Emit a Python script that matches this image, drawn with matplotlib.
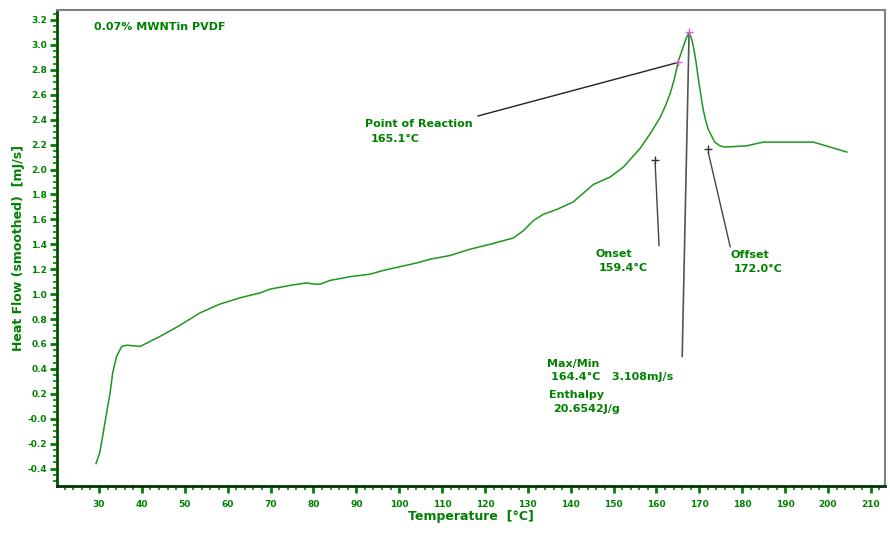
import matplotlib
matplotlib.use("Agg")
import matplotlib.pyplot as plt
from matplotlib.ticker import MultipleLocator, FixedLocator

# heat flow curve
temp = [29.3, 30.2, 31.0, 31.8, 32.6, 33.2, 34.1, 35.3, 36.5, 39.6, 44.2, 48.9,
        53.6, 58.2, 62.9, 65.2, 67.6, 69.9, 74.6, 78.4, 80.2, 81.6, 83.9, 88.6,
        93.2, 96.3, 100.2, 104.1, 107.2, 111.9, 116.5, 121.2, 126.6, 129.0,
        131.3, 133.6, 136.8, 140.6, 145.3, 149.2, 152.3, 156.2, 158.6, 160.9,
        162.2, 163.2, 164.2, 165.1, 166.3, 166.9, 167.6, 168.1, 168.6, 169.2,
        169.8, 170.9, 171.5, 172.1, 173.6, 174.8, 176.0, 181.0, 184.9, 189.6,
        196.6, 200.5, 204.4]
heat = [-0.36, -0.27, -0.11, 0.05, 0.21, 0.37, 0.50, 0.58, 0.59, 0.58, 0.66, 0.75,
        0.85, 0.92, 0.97, 0.99, 1.01, 1.04, 1.07, 1.09, 1.08, 1.08, 1.11, 1.14,
        1.16, 1.19, 1.22, 1.25, 1.28, 1.31, 1.36, 1.40, 1.45, 1.51,
        1.59, 1.64, 1.68, 1.74, 1.88, 1.94, 2.02, 2.17, 2.29, 2.42,
        2.52, 2.61, 2.73, 2.87, 2.99, 3.05, 3.10, 3.06, 2.99, 2.87,
        2.72, 2.48, 2.39, 2.32, 2.22, 2.19, 2.18, 2.19, 2.22, 2.22,
        2.22, 2.18, 2.14]

# markers on the trace
peak = (167.6, 3.10)
reaction = (165.1, 2.86)
onset_mark = (159.7, 2.08)
offset_mark = (172.1, 2.165)

y_ticks = [-0.4, -0.2, 0.0, 0.2, 0.4, 0.6, 0.8, 1.0, 1.2, 1.4, 1.6, 1.8, 2.0,
           2.2, 2.4, 2.6, 2.8, 3.0, 3.2]
y_labels = ["-0.4", "-0.2", "-0.0", "0.2", "0.4", "0.6", "0.8", "1.0", "1.2",
            "1.4", "1.6", "1.8", "2.0", "2.2", "2.4", "2.6", "2.8", "3.0", "3.2"]
x_ticks = list(range(30, 220, 10))

green = "#008000"
line_green = "#1e961e"

fig = plt.figure(figsize=(8.9, 5.33), dpi=100)
ax = fig.add_axes([0.064, 0.0882, 0.9304, 0.893])

ax.plot(temp, heat, color=line_green, lw=1.1)

# annotation leader lines
ax.plot([reaction[0], 118.4], [reaction[1], 2.43], color="#222222", lw=1)
ax.plot([onset_mark[0], 160.6], [onset_mark[1] - 0.03, 1.39], color="#444444", lw=1)
ax.plot([offset_mark[0], 177.2], [offset_mark[1] - 0.03, 1.38], color="#444444", lw=1)
ax.plot([peak[0], 166.0], [peak[1] - 0.02, 0.50], color="#555555", lw=1.2)

ax.plot(*peak, marker="+", color="#cc66cc", ms=6, mew=1)
ax.plot(*reaction, marker="+", color="#cc66cc", ms=6, mew=1)
ax.plot(*onset_mark, marker="+", color="#333333", ms=6, mew=1)
ax.plot(*offset_mark, marker="+", color="#333333", ms=6, mew=1)

tkw = dict(color=green, fontsize=8, fontweight="bold", va="center", ha="left",
           family="DejaVu Sans")
ax.text(28.8, 3.144, "0.07% MWNTin PVDF", **tkw)
ax.text(92.0, 2.365, "Point of Reaction", **tkw)
ax.text(93.4, 2.245, "165.1°C", **tkw)
ax.text(145.7, 1.32, "Onset", **tkw)
ax.text(146.6, 1.21, "159.4°C", **tkw)
ax.text(177.2, 1.31, "Offset", **tkw)
ax.text(178.1, 1.20, "172.0°C", **tkw)
ax.text(134.5, 0.44, "Max/Min", **tkw)
ax.text(135.4, 0.335, "164.4°C   3.108mJ/s", **tkw)
ax.text(135.0, 0.19, "Enthalpy", **tkw)
ax.text(135.9, 0.078, "20.6542J/g", **tkw)

ax.set_xlim(20.2, 213.3)
ax.set_ylim(-0.54, 3.28)

ax.yaxis.set_major_locator(FixedLocator(y_ticks))
ax.set_yticklabels(y_labels)
ax.yaxis.set_minor_locator(MultipleLocator(0.05))
ax.xaxis.set_major_locator(FixedLocator(x_ticks))
ax.xaxis.set_minor_locator(MultipleLocator(2))

ax.tick_params(axis="both", which="major", direction="out", length=5, width=2,
               color=green, labelcolor=green, labelsize=6.5)
ax.tick_params(axis="both", which="minor", direction="out", length=3, width=1.2,
               color=green)
ax.tick_params(axis="x", pad=5)
ax.tick_params(axis="y", pad=2)
for lab in ax.get_xticklabels() + ax.get_yticklabels():
    lab.set_fontweight("bold")

ax.spines["left"].set_color("#005000")
ax.spines["left"].set_linewidth(2)
ax.spines["bottom"].set_color("#003300")
ax.spines["bottom"].set_linewidth(2)
for s in ("top", "right"):
    ax.spines[s].set_color("#808080")
    ax.spines[s].set_linewidth(1.5)

ax.set_xlabel("Temperature  [°C]", color=green, fontsize=9, fontweight="bold",
              labelpad=1)
ax.set_ylabel("Heat Flow (smoothed)  [mJ/s]", color=green, fontsize=9,
              fontweight="bold", labelpad=2)

fig.savefig("out.png", dpi=100)
